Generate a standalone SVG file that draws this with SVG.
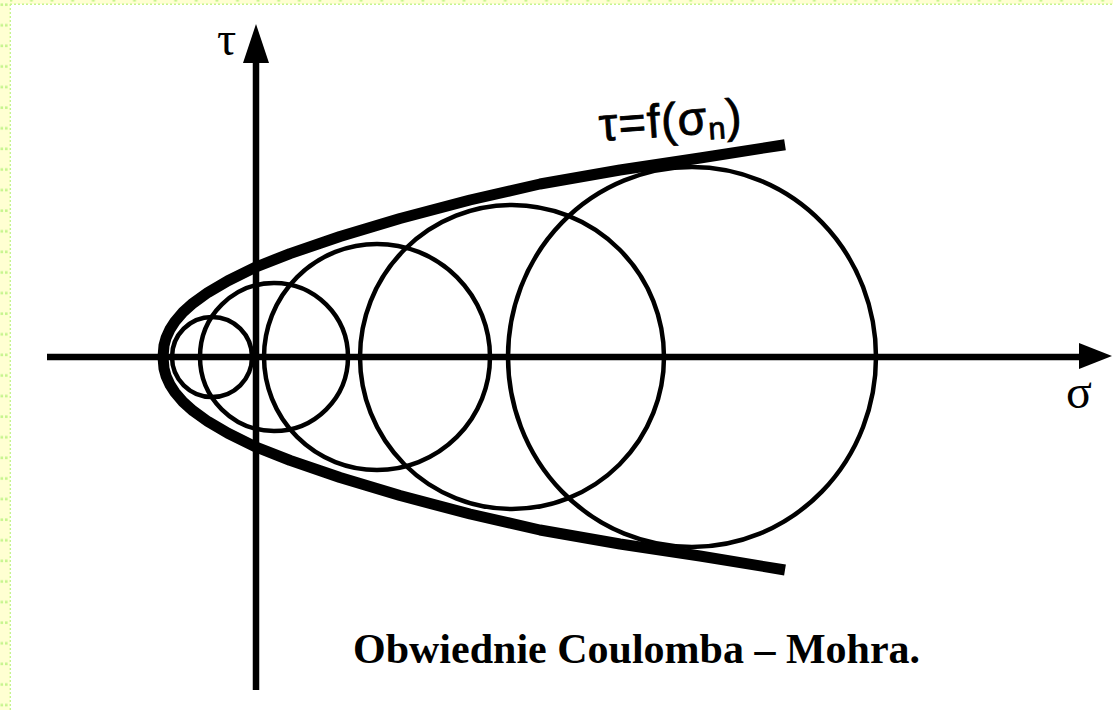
<svg xmlns="http://www.w3.org/2000/svg" width="1113" height="710" viewBox="0 0 1113 710">
  <defs>
    <pattern id="sqL" patternUnits="userSpaceOnUse" x="0" y="3" width="10" height="20.6">
      <rect x="0.5" y="21" width="2.6" height="2.6" fill="#c6f48e"/>
      <rect x="5" y="21" width="2.6" height="2.6" fill="#c6f48e"/>
      <rect x="0.5" y="0.4" width="2.6" height="2.6" fill="#c6f48e"/>
      <rect x="5" y="0.4" width="2.6" height="2.6" fill="#c6f48e"/>
    </pattern>
    <pattern id="sqT" patternUnits="userSpaceOnUse" x="9" y="0" width="20.6" height="4">
      <rect x="0.5" y="0" width="2.8" height="1.6" fill="#c6f48e"/>
    </pattern>
  </defs>
  <style>
    .ax { stroke: #000; stroke-width: 6.5; fill: none; }
    .head { fill: #000; }
    .circ { stroke: #000; stroke-width: 4.5; fill: none; }
    .env { stroke: #000; stroke-width: 11; fill: none; stroke-linejoin: round; stroke-linecap: butt; }
    .sym { font-family: "Liberation Serif", "DejaVu Serif", serif; font-size: 48px; fill: #000; }
    .lab { font-family: "Liberation Sans", Arial, sans-serif; font-size: 47px; fill: #000; stroke: #000; stroke-width: 0.8; }
    .cap { font-family: "Liberation Serif", "Times New Roman", serif; font-size: 42px; font-weight: bold; fill: #000; }
  </style>
  <rect width="1113" height="710" fill="#ffffff"/>
  <g id="border">
    <rect x="0" y="0" width="10" height="710" fill="#ffffd2"/>
    <rect x="0" y="0" width="1113" height="4" fill="#ffffd2"/>
    <rect x="0" y="0" width="10" height="710" fill="url(#sqL)"/>
    <rect x="10" y="0" width="1103" height="4" fill="url(#sqT)"/>
    <line x1="10.3" y1="4" x2="10.3" y2="710" stroke="#c6f48e" stroke-width="1.4" stroke-dasharray="2 2"/>
    <line x1="10" y1="4.3" x2="1113" y2="4.3" stroke="#c6f48e" stroke-width="1.4" stroke-dasharray="2 2"/>
  </g>
  <g id="connectors">
    <line class="ax" x1="47" y1="357" x2="1082" y2="357"/>
    <polygon class="head" points="1079,343 1112,356 1079,369"/>
    <line class="ax" x1="256" y1="690" x2="256" y2="60"/>
    <polygon class="head" points="243,63 256,24 269,63"/>
  </g>
  <g id="circles">
    <circle class="circ" cx="212" cy="357" r="40"/>
    <circle class="circ" cx="274" cy="357" r="74"/>
    <circle class="circ" cx="377" cy="357" r="113"/>
    <circle class="circ" cx="512" cy="357" r="152"/>
    <ellipse class="circ" cx="692" cy="357" rx="184" ry="190"/>
  </g>
  <g id="envelope">
    <path class="env" d="M785,144.7 L700,158 L620,170 L540,184 L470,200 L400,218.5 L340,236.5 L290,253.6 L256,267 L228,280.7 L208,292.4 L193,303.2 L183,312.2 L175,321.5 L170,329.2 L166,338.1 L164,345.5 L163,357 L164,368.5 L166,375.9 L170,384.8 L175,392.5 L183,401.8 L193,410.8 L208,421.6 L228,433.3 L256,447 L290,460.4 L340,477.5 L400,495.5 L470,514 L540,530 L620,544 L700,556 L785,570"/>
  </g>
  <g id="labels">
    <text class="sym" x="217" y="55">τ</text>
    <text class="sym" x="1066" y="408">σ</text>
    <text class="lab" x="600" y="141" letter-spacing="1" transform="rotate(-4 600 141)">τ=f(σ<tspan font-size="31" dy="6">n</tspan><tspan dy="-6">)</tspan></text>
    <text class="cap" x="353" y="663">Obwiednie Coulomba – Mohra.</text>
  </g>
</svg>
